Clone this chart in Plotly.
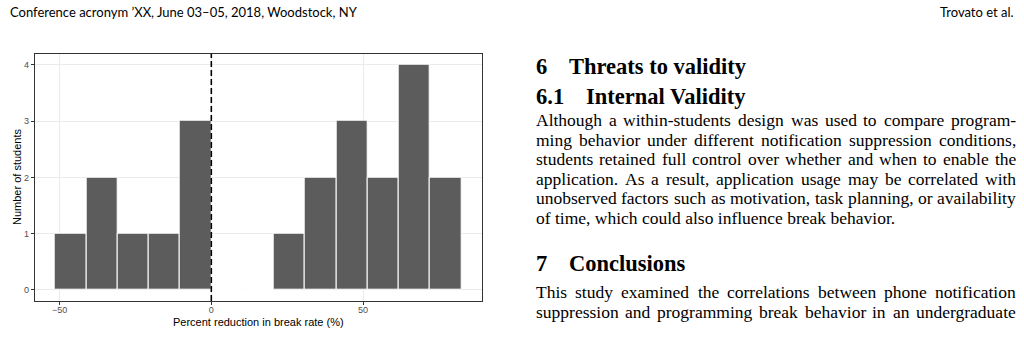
import plotly.graph_objects as go

# ---------------- data ----------------
bin_start = -51.5
bin_width = 10.3
counts = [1, 2, 1, 1, 3, 0, 0, 1, 2, 3, 2, 4, 2]
x_tick_vals = [-50, 0, 50]
x_tick_text = ["\u221250", "0", "50"]
y_tick_vals = [0, 1, 2, 3, 4]
ref_line_x = 0
x_title = "Percent reduction in break rate (%)"
y_title = "Number of students"

header_left = "Conference acronym \u2019XX, June 03\u201305, 2018, Woodstock, NY"
header_right = "Trovato et al."
sec6_num, sec6_title = "6", "Threats to validity"
sec61_num, sec61_title = "6.1", "Internal Validity"
sec7_num, sec7_title = "7", "Conclusions"
para1 = [
    "Although a within-students design was used to compare program-",
    "ming behavior under different notification suppression conditions,",
    "students retained full control over whether and when to enable the",
    "application. As a result, application usage may be correlated with",
    "unobserved factors such as motivation, task planning, or availability",
    "of time, which could also influence break behavior.",
]
para2 = [
    "This study examined the correlations between phone notification",
    "suppression and programming break behavior in an undergraduate",
]

# ---------------- helpers ----------------
W, H = 1024, 337
def fx(px):
    return px / W
def fy(py):
    return 1 - py / H

# Times / Liberation Serif advance widths (1/1000 em)
TW = {' ': 250, '!': 333, ',': 250, '-': 333, '.': 250, '(': 333, ')': 333, "'": 333,
      'A': 722, 'B': 667, 'C': 667, 'D': 722, 'E': 611, 'F': 556, 'G': 722, 'H': 722,
      'I': 333, 'J': 389, 'K': 722, 'L': 611, 'M': 889, 'N': 722, 'O': 722, 'P': 556,
      'Q': 722, 'R': 667, 'S': 556, 'T': 611, 'U': 722, 'V': 722, 'W': 944, 'X': 722,
      'Y': 722, 'Z': 611,
      'a': 444, 'b': 500, 'c': 444, 'd': 500, 'e': 444, 'f': 333, 'g': 500, 'h': 500,
      'i': 278, 'j': 278, 'k': 500, 'l': 278, 'm': 778, 'n': 500, 'o': 500, 'p': 500,
      'q': 500, 'r': 333, 's': 389, 't': 278, 'u': 500, 'v': 500, 'w': 722, 'x': 500,
      'y': 500, 'z': 444}
def tw(s, fs):
    return sum(TW.get(c, 500) for c in s) * fs / 1000.0

centers = [bin_start + bin_width * (i + 0.5) for i in range(len(counts))]

fig = go.Figure()
fig.add_trace(go.Bar(
    x=centers, y=counts, width=bin_width,
    marker=dict(color="#5C5C5C", line=dict(color="white", width=1)),
    hoverinfo="skip", showlegend=False,
))

chart_font = "Liberation Sans, Arial, sans-serif"
x_dom = [fx(34.7), fx(481.7)]
y_dom = [fy(301), fy(53.7)]

fig.update_layout(
    width=W, height=H, autosize=False,
    margin=dict(l=0, r=0, t=0, b=0),
    paper_bgcolor="white", plot_bgcolor="white",
    bargap=0,
    xaxis=dict(domain=x_dom, range=[-58.2, 89.1], tickvals=x_tick_vals, ticktext=x_tick_text,
               showgrid=True, gridcolor="#EBEBEB", gridwidth=1, zeroline=False,
               showline=True, mirror=True, linecolor="#333333", linewidth=1,
               ticks="outside", ticklen=3, tickcolor="#333333", tickwidth=1,
               ticklabelstandoff=-3,
               tickfont=dict(family=chart_font, size=9, color="#4D4D4D")),
    yaxis=dict(domain=y_dom, range=[-0.2, 4.2], tickvals=y_tick_vals,
               showgrid=True, gridcolor="#EBEBEB", gridwidth=1, zeroline=False,
               showline=True, mirror=True, linecolor="#333333", linewidth=1,
               ticks="outside", ticklen=3, tickcolor="#333333", tickwidth=1,
               tickfont=dict(family=chart_font, size=9, color="#4D4D4D")),
    shapes=[dict(type="line", xref="x", yref="y domain", x0=ref_line_x, x1=ref_line_x,
                 y0=0, y1=1, line=dict(color="black", width=1.6, dash="6px,3px"))],
)

ann = []
def add_text(text, px, py, size, family, color="black", anchor="left", angle=0):
    ann.append(dict(text=text, x=fx(px), y=fy(py), xref="paper", yref="paper",
                    showarrow=False, xanchor=anchor, yanchor="middle", textangle=angle,
                    borderpad=0, font=dict(family=family, size=size, color=color)))

# axis titles
add_text(x_title, 258, 322, 11, chart_font, anchor="center")
add_text(y_title, 17, 177, 11, chart_font, anchor="center", angle=-90)

# header
hdr_font = "Lato, Open Sans, sans-serif"
add_text(header_left, 9, 12, 13, hdr_font)
add_text(header_right, 1015, 12, 13, hdr_font, anchor="right")

serif = "Liberation Serif, Times New Roman, serif"
HF = 22.5
def heading(num, title, py, title_x):
    add_text("<b>%s</b>" % num, 535, py, HF, serif)
    add_text("<b>%s</b>" % title, title_x, py, HF, serif)

BF = 17.5
LEFT, RIGHT = 535, 1015
def para(lines, y0, step, last_ragged):
    for i, line in enumerate(lines):
        py = y0 + i * step
        last = last_ragged and (i == len(lines) - 1)
        words = line.split(" ")
        if last or len(words) < 2:
            add_text(line, LEFT, py, BF, serif)
            continue
        widths = [tw(w, BF) for w in words]
        gap = (RIGHT - LEFT - sum(widths)) / (len(words) - 1)
        x = LEFT
        for w, wd in zip(words, widths):
            add_text(w, x, py, BF, serif)
            x += wd + gap

heading(sec6_num, sec6_title, 66, 568)
heading(sec61_num, sec61_title, 96, 585)
para(para1, 120, 19.6, True)
heading(sec7_num, sec7_title, 263, 568)
para(para2, 292, 19.6, False)

fig.update_layout(annotations=ann)
fig.write_html("out.html")
